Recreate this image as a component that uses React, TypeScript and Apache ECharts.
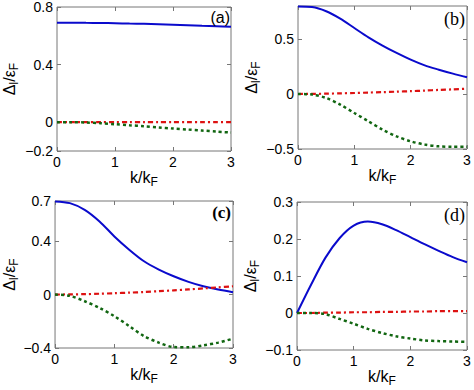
import React, { useEffect, useRef } from 'react';
import * as echarts from 'echarts';

const K = [0, 0.25, 0.5, 0.75, 1, 1.25, 1.5, 1.75, 2, 2.25, 2.5, 2.75, 3];

const aBlue = [0.691, 0.691, 0.69, 0.689, 0.687, 0.685, 0.683, 0.68, 0.677, 0.674, 0.67, 0.667, 0.663];
const aRed = [0, 0, 0, 0, 0, 0, 0, 0, 0, 0, 0, 0, 0];
const aGreen = [0, 0, -0.002, -0.007, -0.014, -0.021, -0.028, -0.036, -0.044, -0.051, -0.058, -0.065, -0.072];

const bBlue = [0.795, 0.79, 0.752, 0.685, 0.6, 0.515, 0.44, 0.373, 0.312, 0.26, 0.221, 0.185, 0.152];
const bRed = [0, 0.001, 0.003, 0.006, 0.009, 0.013, 0.017, 0.021, 0.026, 0.031, 0.037, 0.042, 0.048];
const bGreen = [0, -0.005, -0.036, -0.097, -0.173, -0.248, -0.324, -0.385, -0.43, -0.46, -0.476, -0.48, -0.479];

const cBlue = [0.697, 0.684, 0.634, 0.547, 0.435, 0.336, 0.249, 0.187, 0.137, 0.095, 0.062, 0.037, 0.017];
const cRed = [0, 0.001, 0.003, 0.006, 0.01, 0.014, 0.019, 0.025, 0.031, 0.038, 0.046, 0.054, 0.062];
const cGreen = [0, -0.01, -0.05, -0.1, -0.162, -0.236, -0.311, -0.36, -0.393, -0.395, -0.38, -0.36, -0.33];

const dBlue = [0, 0.077, 0.149, 0.202, 0.236, 0.247, 0.24, 0.224, 0.205, 0.186, 0.168, 0.151, 0.137];
const dRed = [0, 0, 0.001, 0.001, 0.002, 0.002, 0.003, 0.003, 0.004, 0.004, 0.005, 0.005, 0.005];
const dGreen = [0, 0, -0.003, -0.016, -0.029, -0.043, -0.054, -0.063, -0.069, -0.074, -0.076, -0.077, -0.078];

const xTicks = [0, 1, 2, 3];
const yTicksA = [-0.2, 0, 0.4, 0.8];
const yTicksB = [-0.5, 0, 0.5];
const yTicksC = [-0.4, 0, 0.4, 0.7];
const yTicksD = [-0.1, 0, 0.1, 0.2, 0.3];

const panelLabels = ['(a)', '(b)', '(c)', '(d)'];

const AXIS_COLOR = '#777';
const SANS = 'Liberation Sans, Arial, sans-serif';
const SERIF = 'Liberation Serif, Times New Roman, serif';

const fmt = (v: number) => (v < 0 ? '\u2212' + String(Math.abs(v)) : String(v));

const richMain = { fontSize: 16, fontFamily: SANS, color: '#000', lineHeight: 16, verticalAlign: 'top' };
const richSub = { fontSize: 12, fontFamily: SANS, color: '#000', lineHeight: 25 };

export default function App() {
  const ref = useRef<HTMLDivElement>(null);
  useEffect(() => {
    if (!ref.current) return;
    const chart = echarts.init(ref.current, null, { renderer: 'svg' });

    const panels = [
      { grid: { left: 57, top: 7, width: 174, height: 144 }, min: -0.2, max: 0.8, ticks: yTicksA, data: [aBlue, aRed, aGreen], yGap: 31, xGap: 11 },
      { grid: { left: 298, top: 6, width: 169, height: 143 }, min: -0.5, max: 0.8, ticks: yTicksB, data: [bBlue, bRed, bGreen], yGap: 18, xGap: 10 },
      { grid: { left: 53, top: 201, width: 180, height: 147 }, min: -0.4, max: 0.7, ticks: yTicksC, data: [cBlue, cRed, cGreen], yGap: 28, xGap: 9 },
      { grid: { left: 297, top: 202, width: 170, height: 148 }, min: -0.1, max: 0.3, ticks: yTicksD, data: [dBlue, dRed, dGreen], yGap: 12, xGap: 8 },
    ];

    const grids: any[] = [];
    const xAxes: any[] = [];
    const yAxes: any[] = [];
    const series: any[] = [];

    const tick = { show: true, inside: true, length: 4, lineStyle: { color: AXIS_COLOR, width: 1 } };
    const noLine = { show: false, onZero: false };

    panels.forEach((p, i) => {
      grids.push({ ...p.grid, show: true, borderColor: AXIS_COLOR, borderWidth: 1, backgroundColor: '#fff' });
      xAxes.push({
        type: 'value', gridIndex: i, min: 0, max: 3, interval: 1, position: 'bottom',
        axisLine: noLine, splitLine: { show: false }, axisTick: tick,
        axisLabel: { color: '#000', fontSize: 14, fontFamily: SANS, margin: 4, formatter: fmt, customValues: xTicks },
        name: '{m|k/k}{s|F}', nameLocation: 'middle', nameGap: p.xGap,
        nameTextStyle: { rich: { m: richMain, s: richSub } },
      });
      xAxes.push({
        type: 'value', gridIndex: i, min: 0, max: 3, interval: 1, position: 'top',
        axisLine: noLine, splitLine: { show: false }, axisTick: tick, axisLabel: { show: false },
      });
      yAxes.push({
        type: 'value', gridIndex: i, min: p.min, max: p.max, position: 'left',
        axisLine: noLine, splitLine: { show: false },
        axisTick: { ...tick, customValues: p.ticks },
        axisLabel: { color: '#000', fontSize: 14, fontFamily: SANS, margin: 4, formatter: fmt, customValues: p.ticks },
        name: '{m|\u0394}{s|l}{m|/\u03b5}{s|F}', nameLocation: 'middle', nameGap: p.yGap, nameRotate: 90,
        nameTextStyle: { rich: { m: richMain, s: richSub } },
      });
      yAxes.push({
        type: 'value', gridIndex: i, min: p.min, max: p.max, position: 'right',
        axisLine: noLine, splitLine: { show: false },
        axisTick: { ...tick, customValues: p.ticks }, axisLabel: { show: false },
      });
      const styles = [
        { color: '#0a0acc', width: 2, type: 'solid' },
        { color: '#dd1111', width: 2.2, type: [5, 3, 2, 3] },
        { color: '#116611', width: 2.5, type: [3, 3] },
      ];
      p.data.forEach((arr, j) => {
        series.push({
          type: 'line', xAxisIndex: i * 2, yAxisIndex: i * 2, smooth: 0.3, symbol: 'none',
          data: K.map((k, n) => [k, arr[n]]),
          lineStyle: styles[j], z: j === 0 ? 3 : 4,
        });
      });
    });

    const labelPos = [
      { x: 230, y: 9, font: `16px ${SANS}` },
      { x: 465, y: 10, font: `18px ${SERIF}` },
      { x: 231, y: 204, font: `bold 17px ${SERIF}` },
      { x: 465, y: 206, font: `18px ${SERIF}` },
    ];

    chart.setOption({
      animation: false,
      backgroundColor: '#fff',
      grid: grids,
      xAxis: xAxes,
      yAxis: yAxes,
      series,
      graphic: panelLabels.map((t, i) => ({
        type: 'text', x: labelPos[i].x, y: labelPos[i].y, z: 10,
        style: { text: t, font: labelPos[i].font, fill: '#000', textAlign: 'right', textVerticalAlign: 'top' },
      })),
    });
    return () => chart.dispose();
  }, []);
  return <div ref={ref} style={{ position: 'fixed', left: 0, top: 0, width: 474, height: 390 }} />;
}
